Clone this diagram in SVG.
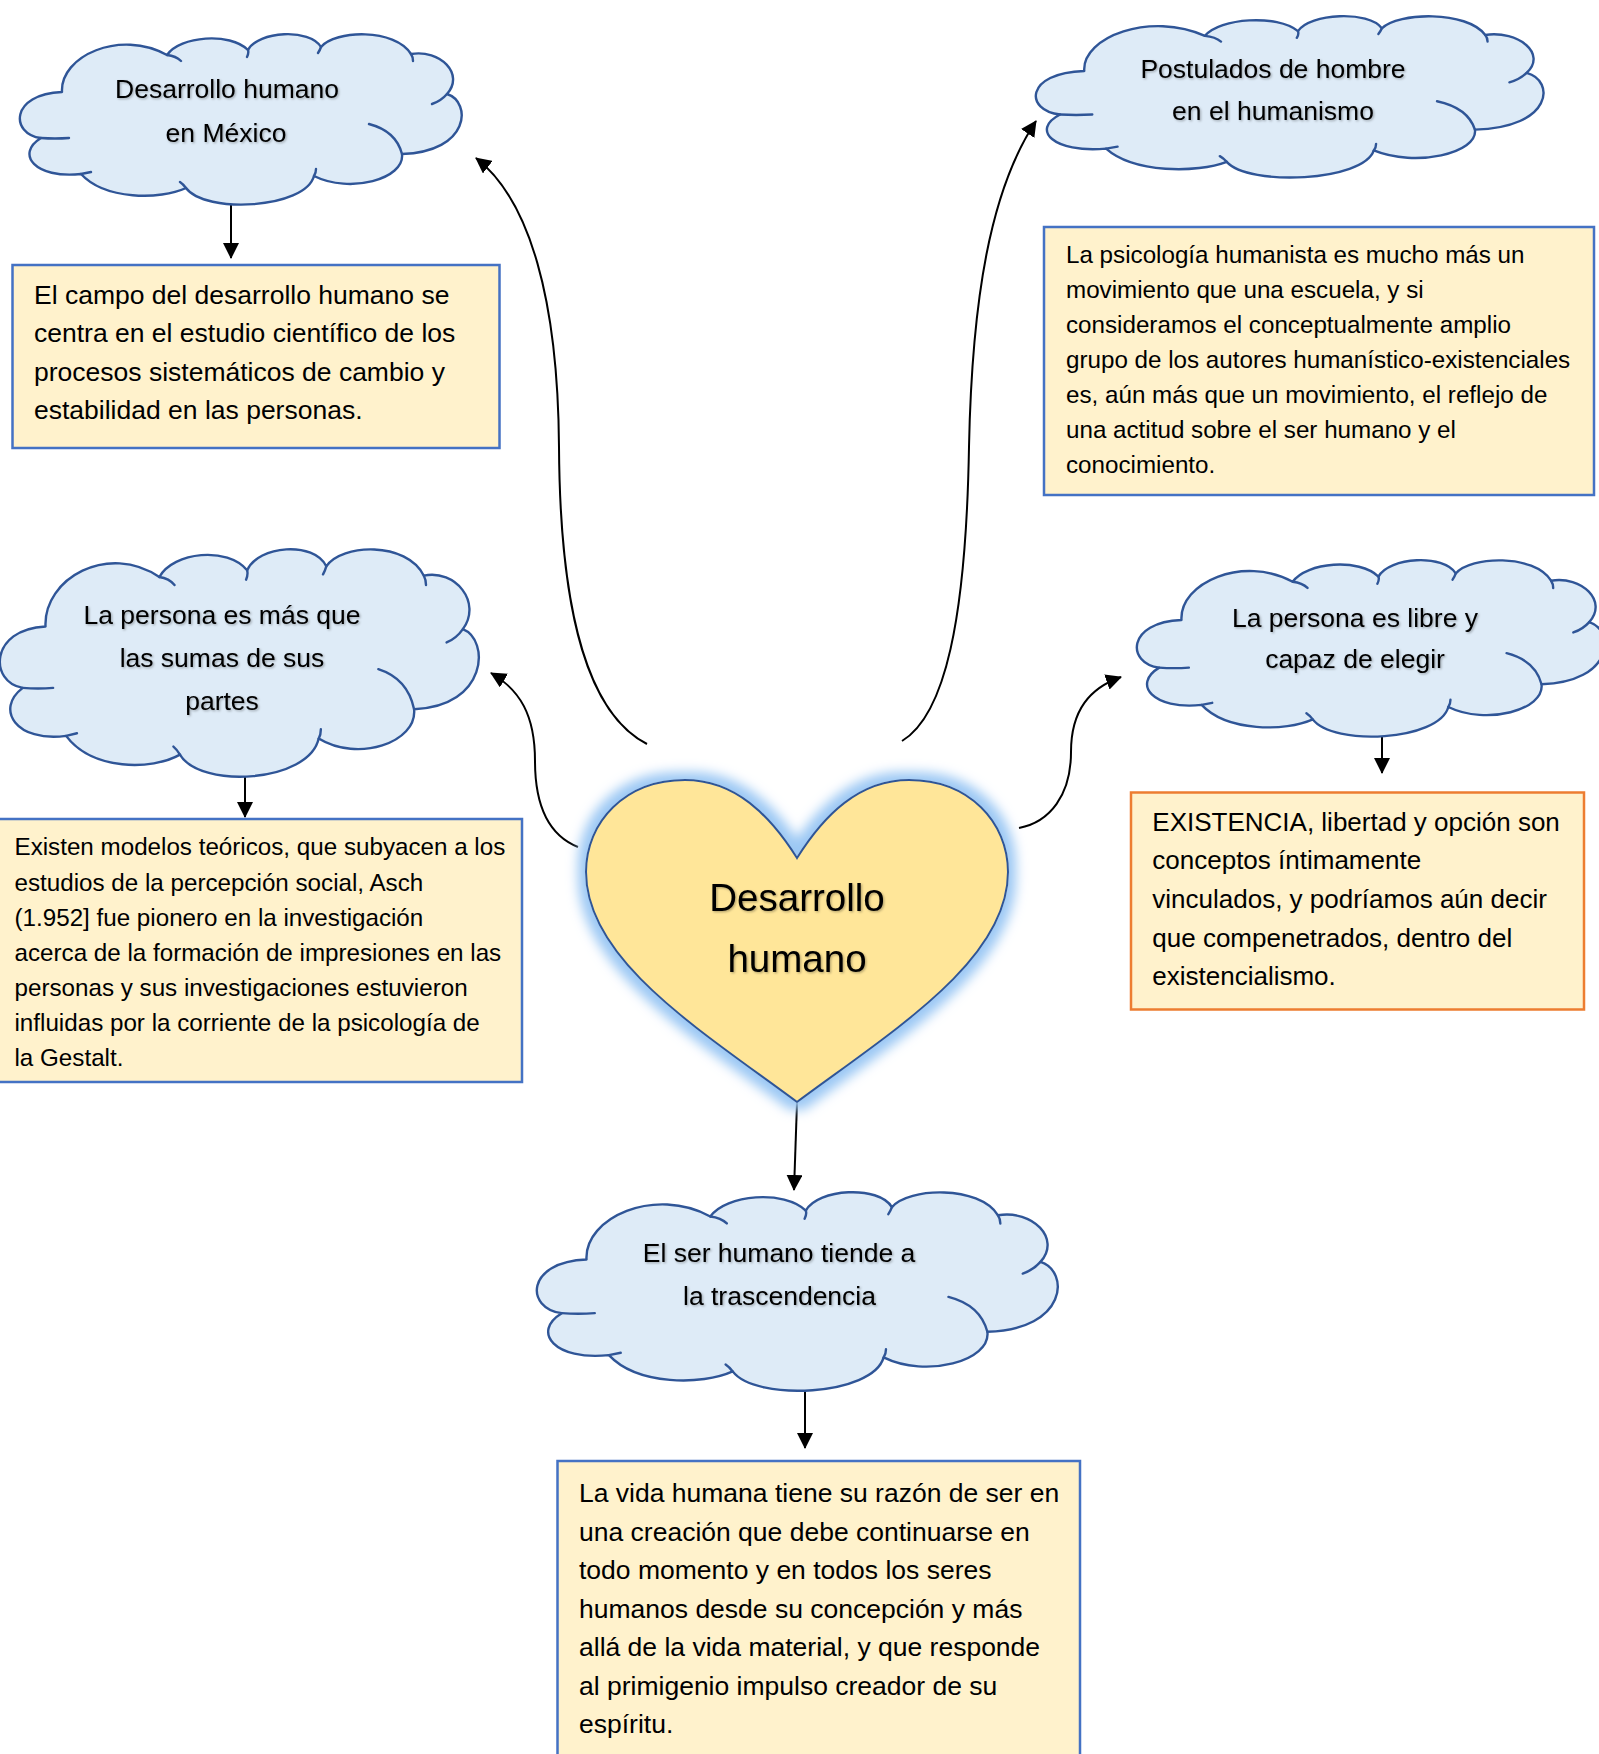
<svg xmlns="http://www.w3.org/2000/svg" xmlns:xlink="http://www.w3.org/1999/xlink" width="1599" height="1754" viewBox="0 0 1599 1754">
<defs>
<style>
.cl{fill:#DEEBF7;stroke:#2F5597;stroke-width:2.4;vector-effect:non-scaling-stroke;stroke-linejoin:round}
.tk{fill:none;stroke:#2F5597;stroke-width:2.4;vector-effect:non-scaling-stroke;stroke-linecap:round}
.box{fill:#FFF2CC;stroke:#4472C4;stroke-width:2.5}
.boxo{fill:#FFF2CC;stroke:#ED7D31;stroke-width:2.5}
.t{font-family:"Liberation Sans",Arial,sans-serif;fill:#000}
.ct{font-family:"Liberation Sans",Arial,sans-serif;font-size:26.5px;fill:#000;text-anchor:middle;filter:url(#sh)}
.b1{font-size:26.5px}
.b4{font-size:26px}
.b2{font-size:24.2px}
.con{fill:none;stroke:#000;stroke-width:2}
</style>
<filter id="sh" x="-10%" y="-30%" width="120%" height="160%">
<feDropShadow dx="1.2" dy="1.2" stdDeviation="1" flood-color="#000" flood-opacity="0.3"/>
</filter>
<filter id="glow" x="-15%" y="-15%" width="130%" height="130%">
<feMorphology in="SourceAlpha" operator="dilate" radius="7" result="d"/>
<feGaussianBlur in="d" stdDeviation="6" result="b"/>
<feFlood flood-color="#9CC8F4"/>
<feComposite in2="b" operator="in" result="g"/>
<feMerge><feMergeNode in="g"/><feMergeNode in="SourceGraphic"/></feMerge>
</filter>
<marker id="ah" markerUnits="userSpaceOnUse" viewBox="0 0 16 16" refX="15" refY="8" markerWidth="16" markerHeight="16" orient="auto">
<path d="M0,0 L16,8 L0,16 Z" fill="#000"/>
</marker>
<g id="cloud">
<path class="cl" d="M42,58 C40,22 100,-5 147,21 C160,2 210,-2 228,16 C238,-3 290,-6 301,13 C315,-4 375,-6 391,20 C420,15 445,40 427,60 C452,68 450,118 382,120 C385,145 330,160 294,142 C285,175 185,180 166,154 C140,166 85,166 61,140 C15,145 -5,120 21,104 C-10,100 -10,60 42,58 Z"/>
<path class="tk" d="M147,21 Q156,22 161,27 M228,16 Q229,19 227,23 M301,13 Q300,16 298,19 M391,20 Q393,23 393,27 M427,60 Q421,67 412,70 M349,90 Q376,97 382,120 M294,142 Q296,139 296,135 M166,154 Q163,150 160,148 M61,140 Q66,139 71,138 M21,104 Q35,105 49,104"/>
</g>
</defs>
<rect width="1599" height="1754" fill="#FFFFFF"/>

<g id="connectors">
<path class="con" d="M647,744 C590,715 560,620 559,447 C558,300 530,200 476,158" marker-end="url(#ah)"/>
<path class="con" d="M902,741 C945,715 966,620 969,447 C972,300 990,190 1036,121" marker-end="url(#ah)"/>
<path class="con" d="M578,847 C548,835 535,805 535,761 C535,715 520,690 491,673" marker-end="url(#ah)"/>
<path class="con" d="M1019,828 C1050,822 1071,795 1071,752 C1071,710 1090,688 1121,677" marker-end="url(#ah)"/>
<path class="con" d="M231,204 L231,258" marker-end="url(#ah)"/>
<path class="con" d="M245,776 L245,817" marker-end="url(#ah)"/>
<path class="con" d="M1382,735 L1382,773" marker-end="url(#ah)"/>
<path class="con" d="M797,1103 L794,1190" marker-end="url(#ah)"/>
<path class="con" d="M805,1392 L805,1448" marker-end="url(#ah)"/>
</g>

<g id="heart">
<path d="M797,858 C770,815 735,780 685,780 C625,780 586,822 586,872 C586,960 700,1030 797,1102 C894,1030 1008,960 1008,872 C1008,822 969,780 909,780 C859,780 824,815 797,858 Z" fill="#FFE699" stroke="#2F5597" stroke-width="2" filter="url(#glow)"/>
<text class="ct" style="font-size:38.5px" x="797" y="911">Desarrollo</text>
<text class="ct" style="font-size:38.5px" x="797" y="972">humano</text>
</g>

<g id="cloud-mexico">
<use xlink:href="#cloud" href="#cloud" transform="translate(20,34)"/>
<text class="ct" x="227" y="98">Desarrollo humano</text>
<text class="ct" x="226" y="142">en México</text>
</g>
<g id="box-mexico">
<rect class="box" x="12.5" y="265" width="487" height="183"/>
<text class="t b1" x="34" y="304">El campo del desarrollo humano se</text>
<text class="t b1" x="34" y="342.3">centra en el estudio científico de los</text>
<text class="t b1" x="34" y="380.7">procesos sistemáticos de cambio y</text>
<text class="t b1" x="34" y="419">estabilidad en las personas.</text>
</g>

<g id="cloud-postulados">
<use xlink:href="#cloud" href="#cloud" transform="translate(1036,16) scale(1.149,0.947)"/>
<text class="ct" x="1273" y="78">Postulados de hombre</text>
<text class="ct" x="1273" y="120">en el humanismo</text>
</g>
<g id="box-postulados">
<rect class="box" x="1044" y="227" width="550" height="268"/>
<text class="t b2" x="1066" y="263.3">La psicología humanista es mucho más un</text>
<text class="t b2" x="1066" y="298.3">movimiento que una escuela, y si</text>
<text class="t b2" x="1066" y="333.3">consideramos el conceptualmente amplio</text>
<text class="t b2" x="1066" y="368.3">grupo de los autores humanístico-existenciales</text>
<text class="t b2" x="1066" y="403.3">es, aún más que un movimiento, el reflejo de</text>
<text class="t b2" x="1066" y="438.3">una actitud sobre el ser humano y el</text>
<text class="t b2" x="1066" y="473.3">conocimiento.</text>
</g>

<g id="cloud-partes">
<use xlink:href="#cloud" href="#cloud" transform="translate(0,549) scale(1.084,1.335)"/>
<text class="ct" x="222" y="623.5">La persona es más que</text>
<text class="ct" x="222" y="666.5">las sumas de sus</text>
<text class="ct" x="222" y="709.5">partes</text>
</g>
<g id="box-partes">
<rect class="box" x="-2" y="819" width="524" height="263"/>
<text class="t b2" x="14.5" y="855">Existen modelos teóricos, que subyacen a los</text>
<text class="t b2" x="14.5" y="890.5">estudios de la percepción social, Asch</text>
<text class="t b2" x="14.5" y="925.7">(1.952] fue pionero en la investigación</text>
<text class="t b2" x="14.5" y="961">acerca de la formación de impresiones en las</text>
<text class="t b2" x="14.5" y="996">personas y sus investigaciones estuvieron</text>
<text class="t b2" x="14.5" y="1031">influidas por la corriente de la psicología de</text>
<text class="t b2" x="14.5" y="1065.7">la Gestalt.</text>
</g>

<g id="cloud-libre">
<use xlink:href="#cloud" href="#cloud" transform="translate(1137,560) scale(1.059,1.035)"/>
<text class="ct" x="1355" y="626.7">La persona es libre y</text>
<text class="ct" x="1355" y="668.3">capaz de elegir</text>
</g>
<g id="box-libre">
<rect class="boxo" x="1131" y="792.5" width="453" height="217"/>
<text class="t b4" x="1152.3" y="830.7">EXISTENCIA, libertad y opción son</text>
<text class="t b4" x="1152.3" y="869.3">conceptos íntimamente</text>
<text class="t b4" x="1152.3" y="907.7">vinculados, y podríamos aún decir</text>
<text class="t b4" x="1152.3" y="946.7">que compenetrados, dentro del</text>
<text class="t b4" x="1152.3" y="985">existencialismo.</text>
</g>

<g id="cloud-trascendencia">
<use xlink:href="#cloud" href="#cloud" transform="translate(537,1192) scale(1.179,1.165)"/>
<text class="ct" x="779" y="1262.4">El ser humano tiende a</text>
<text class="ct" x="779.5" y="1304.5">la trascendencia</text>
</g>
<g id="box-trascendencia">
<rect class="box" x="557.5" y="1461" width="522.5" height="300"/>
<text class="t b1" x="579" y="1502">La vida humana tiene su razón de ser en</text>
<text class="t b1" x="579" y="1540.8">una creación que debe continuarse en</text>
<text class="t b1" x="579" y="1579.3">todo momento y en todos los seres</text>
<text class="t b1" x="579" y="1617.7">humanos desde su concepción y más</text>
<text class="t b1" x="579" y="1656.2">allá de la vida material, y que responde</text>
<text class="t b1" x="579" y="1694.7">al primigenio impulso creador de su</text>
<text class="t b1" x="579" y="1733">espíritu.</text>
</g>
</svg>
